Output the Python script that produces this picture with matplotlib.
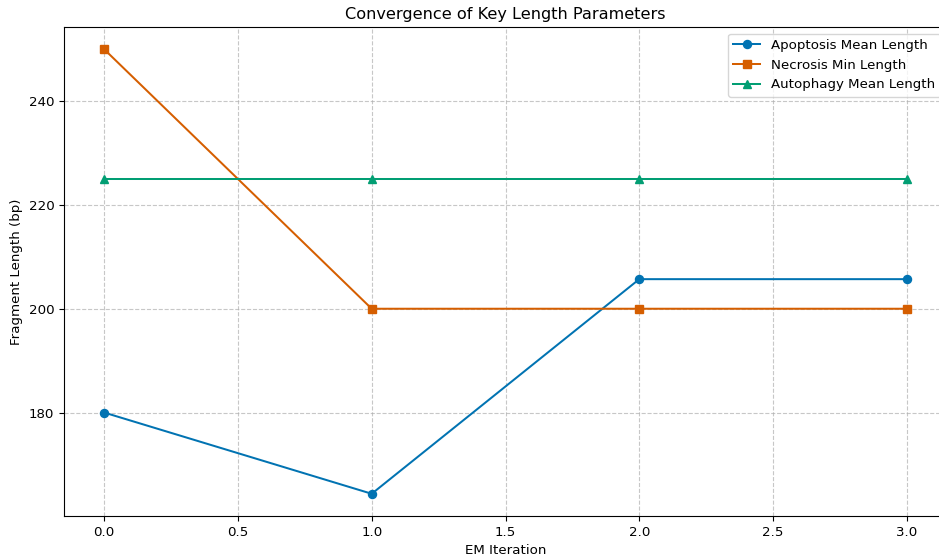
import numpy as np
import matplotlib.pyplot as plt

iterations = [0, 1, 2, 3]
apoptosis_mean = [180.0, 164.35, 205.7, 205.7]
necrosis_min = [250.0, 200.0, 200.0, 200.0]
autophagy_mean = [225.0, 225.0, 225.0, 225.0]

scale = 0.965
plt.rcParams['font.size'] = 10 * scale
plt.rcParams['lines.linewidth'] = 1.5 * scale
plt.rcParams['lines.markersize'] = 6 * scale

fig = plt.figure(figsize=(9.39, 5.6), dpi=100)
# axes run slightly past the right edge of the picture, as in the reference
ax = fig.add_axes([64 / 939, 44 / 560, 883 / 939, 489 / 560])

ax.plot(iterations, apoptosis_mean, marker='o', color='#0173B2', label='Apoptosis Mean Length')
ax.plot(iterations, necrosis_min, marker='s', color='#D55E00', label='Necrosis Min Length')
ax.plot(iterations, autophagy_mean, marker='^', color='#029E73', label='Autophagy Mean Length')

ax.set_title('Convergence of Key Length Parameters')
ax.set_xlabel('EM Iteration')
ax.set_ylabel('Fragment Length (bp)')
ax.set_yticks([180, 200, 220, 240])
ax.grid(True, linestyle='--', alpha=0.7)
ax.legend(loc='upper right')

fig.savefig('out.png', dpi=100)
